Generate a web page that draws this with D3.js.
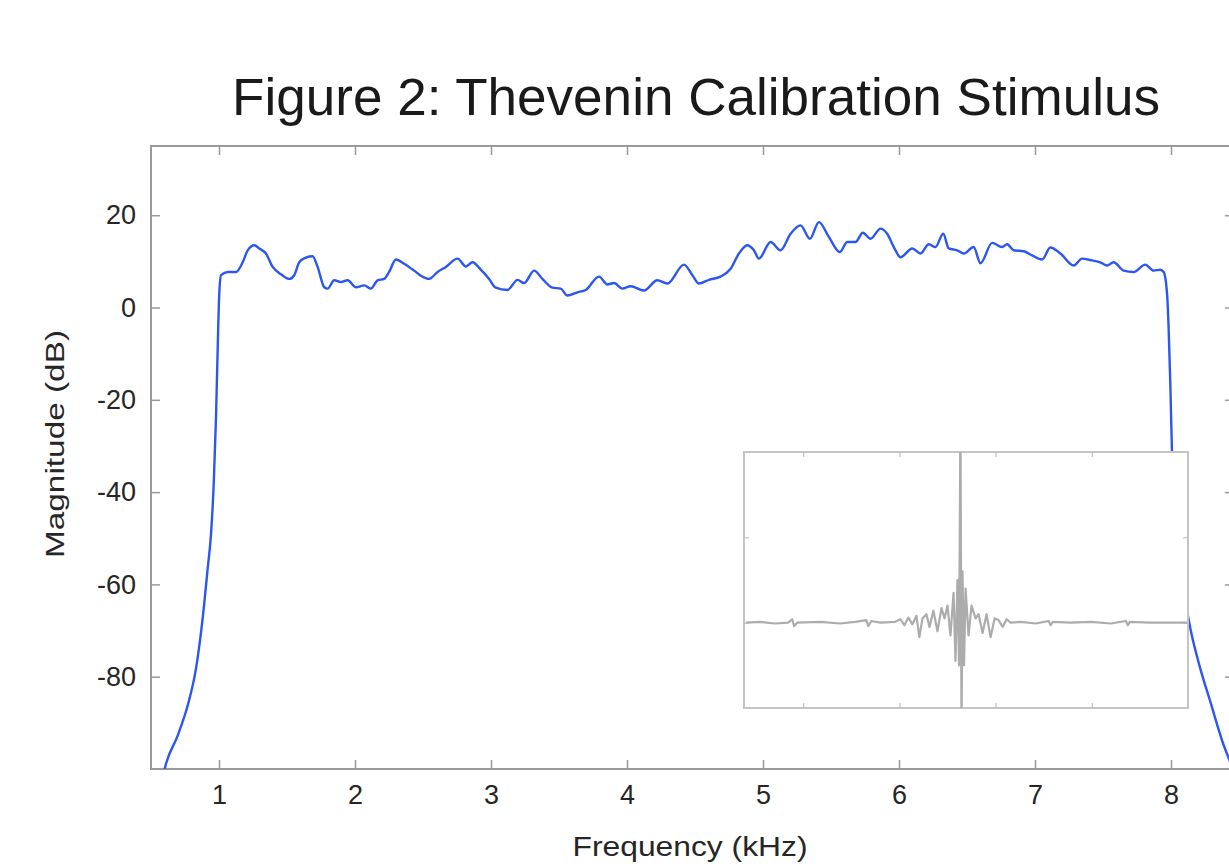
<!DOCTYPE html>
<html>
<head>
<meta charset="utf-8">
<script src="https://cdn.jsdelivr.net/npm/d3@7"></script>
<style>
  body { margin: 0; background: #fff; }
  svg { display: block; }
  text { font-family: "Liberation Sans", Arial, sans-serif; }
</style>
</head>
<body>
<div id="chart"></div>
<script>
// magnitude spectrum (kHz, dB)
const freqKHz = [0.596, 0.611, 0.697, 0.770, 0.831, 0.880, 0.917, 0.941, 0.961, 0.978, 0.990, 1.002, 1.015,
  1.064, 1.125, 1.174, 1.211, 1.259, 1.296, 1.345, 1.395, 1.456, 1.517, 1.553, 1.590, 1.639, 1.688, 1.725,
  1.774, 1.799, 1.847, 1.896, 1.946, 2.007, 2.068, 2.117, 2.166, 2.215, 2.251, 2.301, 2.361, 2.435, 2.484,
  2.545, 2.607, 2.668, 2.754, 2.815, 2.864, 2.925, 2.986, 3.035, 3.121, 3.195, 3.243, 3.317, 3.378, 3.452,
  3.513, 3.562, 3.636, 3.697, 3.794, 3.856, 3.904, 3.966, 4.027, 4.125, 4.223, 4.297, 4.419, 4.481, 4.529,
  4.602, 4.688, 4.762, 4.823, 4.885, 4.933, 4.970, 5.056, 5.129, 5.203, 5.276, 5.345, 5.411, 5.484, 5.565,
  5.619, 5.680, 5.734, 5.791, 5.864, 5.913, 5.962, 6.011, 6.097, 6.158, 6.219, 6.268, 6.325, 6.366, 6.428,
  6.476, 6.549, 6.599, 6.685, 6.758, 6.795, 6.843, 6.917, 6.979, 7.052, 7.113, 7.187, 7.285, 7.346, 7.419,
  7.480, 7.530, 7.578, 7.652, 7.725, 7.811, 7.872, 7.921, 7.946, 7.971, 7.982, 7.995, 8.007, 8.031, 8.068,
  8.105, 8.142, 8.215, 8.289, 8.387, 8.473];
const magDb = [-100.5, -98.8, -92.7, -86.2, -78.2, -67.3, -56.5, -49.2, -38.3, -23.8, -9.3, 3.0, 7.0,
  7.7, 7.7, 9.8, 12.4, 13.5, 12.8, 11.7, 8.8, 7.2, 6.2, 7.0, 9.8, 10.8, 11.1, 8.8,
  4.4, 4.1, 5.9, 5.5, 5.9, 4.4, 4.8, 4.1, 5.9, 6.2, 7.7, 10.4, 9.5, 8.0, 6.9,
  6.2, 7.7, 8.8, 10.6, 8.9, 9.8, 8.2, 6.2, 4.3, 3.8, 6.0, 5.3, 8.0, 6.2, 4.3,
  4.1, 2.6, 3.3, 3.8, 6.7, 5.0, 5.3, 4.1, 4.6, 3.7, 5.9, 5.2, 9.3, 7.0, 5.2,
  6.0, 6.7, 8.4, 11.7, 13.5, 12.4, 10.6, 14.2, 12.4, 16.0, 17.8, 14.9, 18.5, 15.3, 12.0,
  14.2, 14.2, 16.2, 14.9, 17.1, 16.0, 13.1, 10.9, 12.8, 11.7, 13.7, 13.1, 16.0, 12.8, 12.4,
  11.7, 13.1, 9.6, 14.0, 13.1, 13.7, 12.4, 12.2, 11.3, 10.4, 13.0, 11.7, 9.1, 10.6, 10.2,
  9.8, 9.1, 9.8, 8.0, 7.7, 9.3, 8.0, 8.2, 7.7, 3.0, -4.0, -16.6, -31.0, -45.0, -56.0,
  -63.5, -69.5, -78.2, -85.4, -94.8, -101.0];

const xTicks = [1, 2, 3, 4, 5, 6, 7, 8];
const yTicks = [-80, -60, -40, -20, 0, 20];

// inset: time waveform of the stimulus (ms, amplitude)
const insetT = [0.406, 0.552, 0.708, 0.844, 0.885, 0.906, 0.938, 1.177, 1.385, 1.542, 1.656, 1.677, 1.708,
  1.802, 1.958, 2.010, 2.052, 2.094, 2.135, 2.177, 2.208, 2.240, 2.281, 2.313, 2.354, 2.396, 2.438, 2.469,
  2.500, 2.531, 2.563, 2.583, 2.604, 2.620, 2.635, 2.646, 2.656, 2.672, 2.688, 2.719, 2.750, 2.792, 2.823,
  2.865, 2.906, 2.948, 2.990, 3.031, 3.073, 3.115, 3.156, 3.260, 3.417, 3.552, 3.573, 3.594, 3.781, 3.990,
  4.198, 4.354, 4.375, 4.396, 4.615, 4.990];
const insetV = [0, 0.01, -0.01, 0, 0.04, -0.04, 0, 0.01, -0.01, 0.01, 0.03, -0.04, 0.02,
  0, 0.01, 0.04, -0.03, 0.06, -0.02, 0.08, -0.17, 0.05, 0.1, -0.05, 0.14, -0.1, 0.17, 0.05,
  0.2, -0.15, 0.35, -0.45, 0.5, -0.5, 2.5, -1.3, 0.6, -0.5, 0.4, -0.15, 0.2, 0.05, 0.1,
  -0.12, 0.1, -0.17, 0.05, 0.03, -0.05, 0.04, 0, 0.01, -0.01, 0.02, -0.03, 0.01, 0, 0.01,
  -0.01, 0.02, -0.03, 0.01, 0, 0];
const insetXTicks = [1, 2, 3, 4];
const insetYTicks = [0, 1];

const W = 1229, H = 864;
const svg = d3.select("#chart").append("svg").attr("width", W).attr("height", H);

const plot = { left: 151, top: 146, right: 1239, bottom: 769 };
const x = d3.scaleLinear().domain([0.5, 8.5]).range([plot.left, plot.right]);
const y = d3.scaleLinear().domain([35, -100]).range([plot.top, plot.bottom]);

const axisColor = "#9a9a9a";
const textColor = "#262626";

svg.append("clipPath").attr("id", "plotclip")
  .append("rect")
  .attr("x", plot.left).attr("y", plot.top)
  .attr("width", plot.right - plot.left).attr("height", plot.bottom - plot.top);

// box
svg.append("rect")
  .attr("x", plot.left).attr("y", plot.top)
  .attr("width", plot.right - plot.left).attr("height", plot.bottom - plot.top)
  .attr("fill", "#fff").attr("stroke", axisColor).attr("stroke-width", 2);

function styleAxis(g, showText) {
  g.select(".domain").remove();
  g.selectAll(".tick line").attr("stroke", axisColor).attr("stroke-width", 1.5);
  g.selectAll(".tick text").attr("fill", textColor).style("font-size", "27px");
  if (!showText) g.selectAll(".tick text").remove();
}

// plain hyphen minus like the original
const fmt = d => String(d);

svg.append("g").attr("transform", `translate(0,${plot.bottom})`)
  .call(d3.axisBottom(x).tickValues(xTicks).tickSize(-9).tickPadding(16).tickFormat(fmt))
  .call(g => styleAxis(g, true));
svg.append("g").attr("transform", `translate(0,${plot.top})`)
  .call(d3.axisTop(x).tickValues(xTicks).tickSize(-9))
  .call(g => styleAxis(g, false));
svg.append("g").attr("transform", `translate(${plot.left},0)`)
  .call(d3.axisLeft(y).tickValues(yTicks).tickSize(-9).tickPadding(15).tickFormat(fmt))
  .call(g => styleAxis(g, true));
svg.append("g").attr("transform", `translate(${plot.right},0)`)
  .call(d3.axisRight(y).tickValues(yTicks).tickSize(-14))
  .call(g => styleAxis(g, false));

// spectrum line
const spec = freqKHz.map((f, i) => ({ f: f, m: magDb[i] }));
svg.append("path")
  .datum(spec)
  .attr("clip-path", "url(#plotclip)")
  .attr("fill", "none")
  .attr("stroke", "#2b57f0")
  .attr("stroke-width", 2.4)
  .attr("stroke-linejoin", "round")
  .attr("d", d3.line().x(d => x(d.f)).y(d => y(d.m)).curve(d3.curveMonotoneX));

// inset
const ins = { left: 744, top: 452, right: 1188, bottom: 708 };
const ix = d3.scaleLinear().domain([0.385, 5.0]).range([ins.left, ins.right]);
const iy = d3.scaleLinear().domain([2, -1]).range([ins.top, ins.bottom]);

svg.append("clipPath").attr("id", "insetclip")
  .append("rect")
  .attr("x", ins.left).attr("y", ins.top)
  .attr("width", ins.right - ins.left).attr("height", ins.bottom - ins.top);

svg.append("rect")
  .attr("x", ins.left).attr("y", ins.top)
  .attr("width", ins.right - ins.left).attr("height", ins.bottom - ins.top)
  .attr("fill", "#fff").attr("stroke", "#c4c4c4").attr("stroke-width", 2);

function styleInset(g) {
  g.select(".domain").remove();
  g.selectAll(".tick line").attr("stroke", "#b8b8b8").attr("stroke-width", 1);
  g.selectAll(".tick text").remove();
}
svg.append("g").attr("transform", `translate(0,${ins.bottom})`)
  .call(d3.axisBottom(ix).tickValues(insetXTicks).tickSize(-5)).call(styleInset);
svg.append("g").attr("transform", `translate(0,${ins.top})`)
  .call(d3.axisTop(ix).tickValues(insetXTicks).tickSize(-5)).call(styleInset);
svg.append("g").attr("transform", `translate(${ins.left},0)`)
  .call(d3.axisLeft(iy).tickValues(insetYTicks).tickSize(-5)).call(styleInset);
svg.append("g").attr("transform", `translate(${ins.right},0)`)
  .call(d3.axisRight(iy).tickValues(insetYTicks).tickSize(-5)).call(styleInset);

const wave = insetT.map((t, i) => ({ t: t, v: insetV[i] }));
svg.append("path")
  .datum(wave)
  .attr("clip-path", "url(#insetclip)")
  .attr("fill", "none")
  .attr("stroke", "#acacac")
  .attr("stroke-width", 2.2)
  .attr("stroke-linejoin", "round")
  .attr("d", d3.line().x(d => ix(d.t)).y(d => iy(d.v)));

// titles
svg.append("text")
  .attr("x", 696).attr("y", 115)
  .attr("text-anchor", "middle")
  .attr("fill", "#1a1a1a")
  .attr("textLength", 928).attr("lengthAdjust", "spacingAndGlyphs")
  .style("font-size", "51px")
  .text("Figure 2: Thevenin Calibration Stimulus");

svg.append("text")
  .attr("x", 690).attr("y", 856)
  .attr("text-anchor", "middle")
  .attr("fill", textColor)
  .attr("textLength", 235).attr("lengthAdjust", "spacingAndGlyphs")
  .style("font-size", "28px")
  .text("Frequency (kHz)");

svg.append("text")
  .attr("transform", "translate(64,444) rotate(-90)")
  .attr("text-anchor", "middle")
  .attr("fill", textColor)
  .attr("textLength", 228).attr("lengthAdjust", "spacingAndGlyphs")
  .style("font-size", "26px")
  .text("Magnitude (dB)");
</script>
</body>
</html>
